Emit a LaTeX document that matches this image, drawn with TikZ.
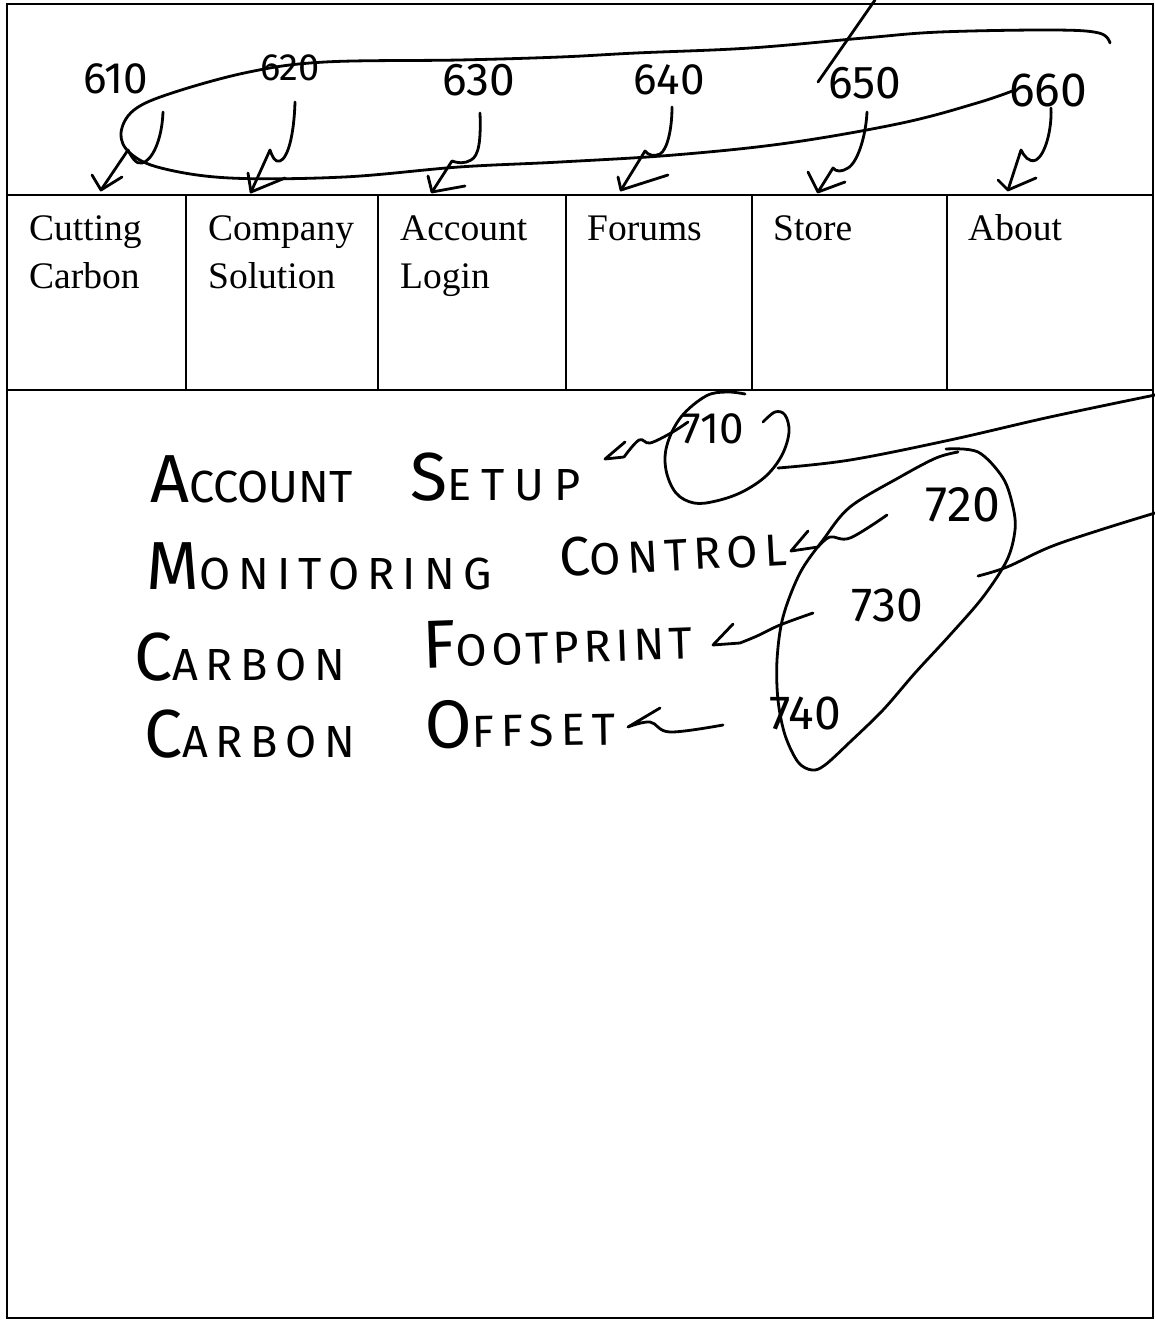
\documentclass[tikz,border=0pt]{standalone}
\usepackage{fontspec}
\setmainfont{Liberation Serif}
\IfFontExistsTF{FiraSans-Light.otf}
  {\newfontfamily\hand{FiraSans-Light.otf}}
  {\newfontfamily\hand{Fira Sans}}
% larger first letter of a hand-lettered word
\newcommand\HBig[1]{{\fontsize{68}{68}\selectfont #1}}
\newcommand\HMid[1]{{\fontsize{55}{55}\selectfont #1}}

\begin{document}
\begin{tikzpicture}[x=1pt,y=-1pt,
  pen/.style={line width=2.8pt, line cap=round, line join=round},
  border/.style={line width=2.6pt},
  cell/.style={draw, line width=2pt, rectangle, anchor=north west,
    minimum height=195pt, inner sep=0pt, outer sep=0pt},
  navtext/.style={font=\fontsize{37.5}{48}\selectfont, anchor=base west, inner sep=0pt},
  num/.style={font=\hand\fontsize{44}{44}\selectfont, inner sep=0pt},
  word/.style={font=\hand\addfontfeature{LetterSpace=#1}\fontsize{45}{45}\selectfont,
    anchor=base west, inner sep=0pt},
  word/.default=15,
]
\useasboundingbox (0,0) rectangle (1155,1320);

% page frame
\draw[border] (7,4) rectangle (1153,1318);

% navigation bar
\node[cell, minimum width=179pt] (c1) at (7,195) {};
\node[cell, minimum width=192pt] (c2) at (186,195) {};
\node[cell, minimum width=188pt] (c3) at (378,195) {};
\node[cell, minimum width=186pt] (c4) at (566,195) {};
\node[cell, minimum width=195pt] (c5) at (752,195) {};
\node[cell, minimum width=206pt] (c6) at (947,195) {};

\node[navtext] (n1a) at (29,240) {Cutting};
\node[navtext] (n1b) at (29,288) {Carbon};
\node[navtext] (n2a) at (208,240) {Company};
\node[navtext] (n2b) at (208,288) {Solution};
\node[navtext] (n3a) at (400,240) {Account};
\node[navtext] (n3b) at (400,288) {Login};
\node[navtext] (n4a) at (587,240) {Forums};
\node[navtext] (n5a) at (773,240) {Store};
\node[navtext] (n6a) at (968,240) {About};

% reference numerals of the menu items
\node[num] (l610) at (116,79) {610};
\node[num, font=\hand\fontsize{38}{38}\selectfont] (l620) at (290,68) {620};
\node[num, font=\hand\fontsize{46}{46}\selectfont] (l630) at (479,80) {630};
\node[num] (l640) at (669,80) {640};
\node[num, font=\hand\fontsize{46}{46}\selectfont] (l650) at (865,83) {650};
\node[num, font=\hand\fontsize{48}{48}\selectfont] (l660) at (1048,90) {660};

% arrow tips just above the menu cells
\coordinate (t610) at (101,190);
\coordinate (t620) at (251,192);
\coordinate (t630) at (432,192);
\coordinate (t640) at (621,190);
\coordinate (t650) at (818,192);
\coordinate (t660) at (1008,190);

\draw[pen] (163,112) .. controls (162,140) and (152,161) .. (142,163)
  .. controls (136,165) and (131,156) .. (128,150) -- (t610);
\draw[pen] (92,175) -- (t610) -- (122,177);
\draw[pen] (295,102) .. controls (294,135) and (288,158) .. (280,161)
  .. controls (275,163) and (272,156) .. (270,150) -- (t620);
\draw[pen] (248,173) -- (t620) -- (285,178);
\draw[pen] (480,113) .. controls (481,140) and (479,156) .. (471,160)
  .. controls (465,164) and (457,163) .. (452,161) -- (t630);
\draw[pen] (428,176) -- (t630) -- (465,186);
\draw[pen] (672,107) .. controls (672,130) and (667,150) .. (660,154)
  .. controls (654,157) and (648,155) .. (645,151) -- (t640);
\draw[pen] (618,177) -- (t640) -- (668,175);
\draw[pen] (867,112) .. controls (866,135) and (858,162) .. (848,168)
  .. controls (842,172) and (836,172) .. (833,168) -- (t650);
\draw[pen] (808,172) -- (t650) -- (845,182);
\draw[pen] (1051,108) .. controls (1052,130) and (1045,155) .. (1036,160)
  .. controls (1029,163) and (1024,156) .. (1021,150) -- (t660);
\draw[pen] (998,180) -- (t660) -- (1036,178);

% loop grouping the menu numerals
\draw[pen] plot[smooth, tension=0.6] coordinates {
  (1110,43) (1099,33) (1053,30) (940,32) (864,38) (750,48) (636,53)
  (560,57) (459,60) (325,62) (249,72) (172,93) (134,110) (121,133)
  (130,153) (161,168) (230,178) (344,177) (459,167) (560,162) (674,155)
  (788,143) (902,123) (977,103) (1015,90)};
\draw[pen] (875,0) -- (818,82);

% hand-lettered list of account functions
\node[word=0] (w1a) at (150,502) {\HBig{A}CCOUNT};
\node[word=22] (w1b) at (410,500) {\HBig{S}ETUP};
\node[word=18] (w2a) at (146,589) {\HBig{M}ONITORING};
\node[word=14, rotate=3] (w2b) at (560,577) {\HMid{C}ONTROL};
\node[word=17] (w3a) at (134,680) {\HBig{C}ARBON};
\node[word=10, rotate=2] (w3b) at (423,668) {\HBig{F}OOTPRINT};
\node[word=17] (w4a) at (144,757) {\HBig{C}ARBON};
\node[word=16, rotate=1] (w4b) at (425,748) {\HBig{O}FFSET};

% numerals of the list entries
\node[num] (l710) at (713,429) {710};
\node[num, font=\hand\fontsize{50}{50}\selectfont] (l720) at (963,505) {720};
\node[num, font=\hand\fontsize{48}{48}\selectfont] (l730) at (887,605) {730};
\node[num, font=\hand\fontsize{48}{48}\selectfont] (l740) at (805,713) {740};

% leader arrows from the numerals to the entries
\coordinate (t710) at (605,459);
\coordinate (t720) at (791,551);
\coordinate (t730) at (713,645);
\coordinate (t740) at (628,727);
\draw[pen] (625,442) -- (t710) -- (624,457)
  plot[smooth, tension=0.6] coordinates {(624,457) (639,440) (650,443) (671,433) (688,422)};
\draw[pen] (808,531) -- (t720) -- (818,547)
  plot[smooth, tension=0.6] coordinates {(818,547) (830,537) (850,538) (887,515)};
\draw[pen] (733,624) -- (t730) -- (740,643)
  plot[smooth, tension=0.6] coordinates {(740,643) (757,636) (780,625) (813,613)};
\draw[pen] (660,708) -- (t740)
  plot[smooth, tension=0.6] coordinates {(628,727) (650,722) (670,732) (723,725)};

% loop around 710 and its lead line
\draw[pen] plot[smooth, tension=0.6] coordinates {
  (763,422) (775,412) (785,415) (789,432) (782,455) (766,476) (742,492)
  (716,501) (694,503) (676,493) (666,470) (667,445) (681,417) (706,396)
  (727,392) (745,394)};
\draw[pen] plot[smooth, tension=0.6] coordinates {
  (778,468) (850,460) (950,440) (1050,417) (1155,395)};

% loop around 720-740 and its lead line
\draw[pen] plot[smooth, tension=0.55] coordinates {
  (946,449) (978,452) (1003,478) (1013,507) (1015,530) (1007,560) (983,597)
  (950,635) (915,673) (883,710) (850,742) (825,765) (812,770) (798,762)
  (785,735) (778,700) (777,660) (783,617) (800,573) (823,540) (850,507)
  (900,477) (936,458) (958,452)};
\draw[pen] plot[smooth, tension=0.6] coordinates {
  (978,576) (1007,567) (1050,547) (1100,530) (1155,513)};
\end{tikzpicture}
\end{document}
